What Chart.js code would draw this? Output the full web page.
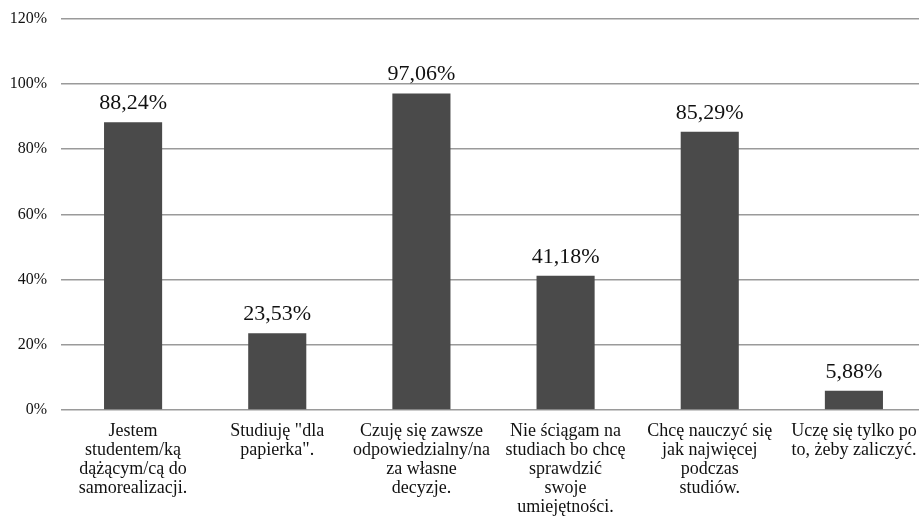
<!DOCTYPE html>
<html>
<head>
<meta charset="utf-8">
<script src="https://cdn.jsdelivr.net/npm/chart.js@4"></script>
<style>
  html, body { margin: 0; padding: 0; background: #fff; overflow: hidden; }
  #wrap { width: 926px; height: 531px; margin-top: -5px; }
</style>
</head>
<body>
<div id="wrap"><canvas id="myChart" width="926" height="531"></canvas></div>
<script>
// Categories (one array of lines per bar)
const categories = [
    ['Jestem', 'studentem/ką', 'dążącym/cą do', 'samorealizacji.'],
    ['Studiuję "dla', 'papierka".'],
    ['Czuję się zawsze', 'odpowiedzialny/na', 'za własne', 'decyzje.'],
    ['Nie ściągam na', 'studiach bo chcę', 'sprawdzić', 'swoje', 'umiejętności.'],
    ['Chcę nauczyć się', 'jak najwięcej', 'podczas', 'studiów.'],
    ['Uczę się tylko po', 'to, żeby zaliczyć.']
];
const values = [88.24, 23.53, 97.06, 41.18, 85.29, 5.88];
const yTicks = [0, 20, 40, 60, 80, 100, 120];

const serif = '"Liberation Serif", "Times New Roman", serif';

// Draw value labels above the bars
const valueLabels = {
    id: 'valueLabels',
    afterDatasetsDraw(chart) {
        const ctx = chart.ctx;
        const meta = chart.getDatasetMeta(0);
        ctx.save();
        ctx.font = '22px ' + serif;
        ctx.fillStyle = '#111';
        ctx.textAlign = 'center';
        ctx.textBaseline = 'alphabetic';
        meta.data.forEach((bar, i) => {
            const txt = values[i].toFixed(2).replace('.', ',') + '%';
            ctx.fillText(txt, bar.x, bar.y - 13);
        });
        ctx.restore();
    }
};

const config = {
    type: 'bar',
    data: {
        labels: categories,
        datasets: [{
            data: values,
            backgroundColor: '#4a4a4a',
            borderWidth: 0,
            barPercentage: 0.403,
            categoryPercentage: 1
        }]
    },
    options: {
        responsive: false,
        animation: false,
        layout: { padding: { top: 11, left: 0, right: 0, bottom: 0 } },
        plugins: {
            legend: { display: false },
            tooltip: { enabled: false }
        },
        scales: {
            x: {
                grid: { display: false },
                border: { display: false },
                ticks: {
                    color: '#111',
                    font: { family: serif, size: 18, lineHeight: 1.05 },
                    padding: 4,
                    maxRotation: 0,
                    autoSkip: false
                },
                afterFit(scale) { scale.height = 116; }
            },
            y: {
                min: 0,
                max: 120,
                afterBuildTicks(scale) {
                    scale.ticks = yTicks.map(v => ({ value: v }));
                },
                grid: { color: '#9a9a9a', lineWidth: 1.4, drawTicks: false },
                border: { display: false },
                ticks: {
                    color: '#111',
                    font: { family: serif, size: 16 },
                    padding: 14,
                    callback: v => v + '%'
                },
                afterFit(scale) { scale.width = 61; }
            }
        }
    },
    plugins: [valueLabels]
};

const chart = new Chart(document.getElementById('myChart'), config);
</script>
</body>
</html>
